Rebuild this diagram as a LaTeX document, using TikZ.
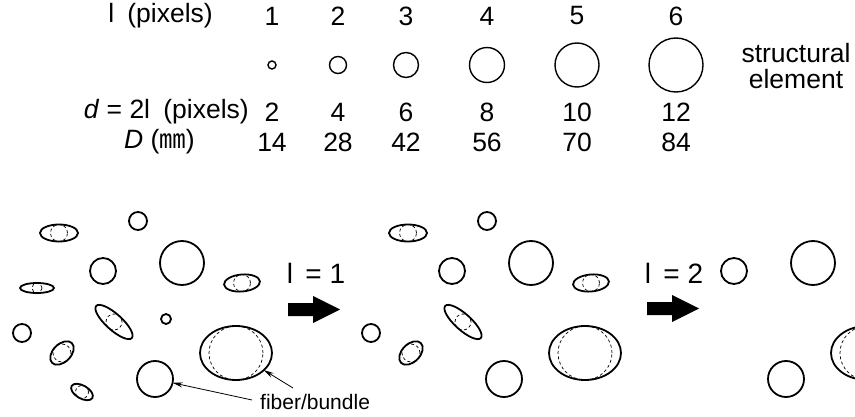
\documentclass[tikz,border=0pt]{standalone}
\usepackage{fontspec}
\setmainfont{Liberation Sans}
\newfontfamily\cjk{Noto Sans CJK JP}
\usetikzlibrary{shapes.geometric,arrows.meta}
\tikzset{
  fib/.style={ellipse, draw, line width=1.8pt, inner sep=0pt, outer sep=0pt, fill=white},
  core/.style={circle, draw, line width=0.7pt, inner sep=0pt, dash pattern=on 3pt off 2.5pt},
  elem/.style={circle, draw, line width=1.4pt, inner sep=0pt},
  lab/.style={font=\fontsize{26.5}{30}\selectfont, inner sep=0pt},
  steplab/.style={font=\fontsize{28}{30}\selectfont, inner sep=0pt},
  small/.style={font=\fontsize{21}{24}\selectfont, inner sep=0pt},
  pointer/.style={line width=0.8pt, -{Stealth[length=10pt,width=5pt]}},
  block/.style={fill=black},
}
% name, x, y, rx, ry, angle
\newcommand\fibel[6]{%
  \node[fib, minimum width=#4*2pt, minimum height=#5*2pt, rotate=#6] (#1) at (#2,#3) {};
  \node[core, minimum size=#5*2pt] (#1c) at (#2,#3) {};}
% name, x, y, r
\newcommand\fibc[4]{%
  \node[fib, minimum width=#4*2pt, minimum height=#4*2pt] (#1) at (#2,#3) {};}
\newcommand\blockarrow[3]{% name, x0, y
  \fill[block] (#2,#3-6.5) -- ++(25,0) -- ++(0,-7) -- ++(27,13.5) -- ++(-27,13.5) -- ++(0,-7) -- ++(-25,0) -- cycle;
  \coordinate (#1) at (#2+26,#3);}
\begin{document}
\begin{tikzpicture}[x=1pt,y=-1pt]
\useasboundingbox (0,0) rectangle (855,417);
\clip (0,0) rectangle (855,417);
% ---------- table ----------
\node[lab, anchor=east] (hl) at (213,16) {l\enspace(pixels)};
\node[lab, anchor=east] (hd) at (249,112) {\textit{d} = 2l\enspace(pixels)};
\node[lab, anchor=east] (hD) at (195,142) {\textit{D} ({\cjk ㎜})};
\foreach \i/\x/\r/\dd/\DD in {1/272/4/2/14, 2/338/8.5/4/28, 3/406/12.5/6/42, 4/487/17.5/8/56, 5/577/22/10/70, 6/676/27/12/84}{
  \node[lab] (n\i) at (\x,16) {\i};
  \node[elem, minimum size=\r*2pt] (c\i) at (\x,65) {};
  \node[lab] (d\i) at (\x,112) {\dd};
  \node[lab] (D\i) at (\x,142) {\DD};
}
\node[lab, anchor=center] (se1) at (796,53) {structural};
\node[lab, anchor=center] (se2) at (796,79) {element};
% ---------- panel 1 ----------
\begin{scope}
\fibel{pA}{59}{233}{19}{8.5}{0}
\fibc{pB}{138}{221}{9}
\fibc{pC}{103}{271}{13}
\fibc{pD}{182}{263}{22}
\fibel{pE}{37}{288}{17}{5}{0}
\fibel{pF}{242}{283}{18}{8.5}{5}
\fibel{pG}{114}{322}{24}{8}{-42}
\fibc{pH}{166}{319}{5}
\fibc{pI}{22}{333}{9}
\fibel{pJ}{62}{353}{14}{9}{45}
\fibel{pK}{82}{392}{12}{6.5}{-30}
\fibc{pL}{155}{379}{18}
\fibel{pM}{236}{353}{36}{27}{0}
\end{scope}
\node[small, anchor=west] (fb) at (260,402) {fiber/bundle};
\coordinate (fb1) at (252,400);
\coordinate (fb2) at (293,388);
\draw[pointer] (fb1) -- (pL);
\draw[pointer] (fb2) -- (pM);
% ---------- step 1 ----------
\node[steplab] (s1) at (316,273) {l\, = 1};
\blockarrow{a1}{288}{309.5}
% ---------- panel 2 ----------
\begin{scope}[xshift=349pt]
\fibel{qA}{59}{233}{19}{8.5}{0}
\fibc{qB}{138}{221}{9}
\fibc{qC}{103}{271}{13}
\fibc{qD}{182}{263}{22}
\fibel{qF}{242}{283}{18}{8.5}{5}
\fibel{qG}{114}{322}{24}{8}{-42}
\fibc{qI}{22}{333}{9}
\fibel{qJ}{62}{353}{14}{9}{45}
\fibc{qL}{155}{379}{18}
\fibel{qM}{236}{353}{36}{27}{0}
\end{scope}
% ---------- step 2 ----------
\node[steplab] (s2) at (674,273) {l\, = 2};
\blockarrow{a2}{647}{308.5}
% ---------- panel 3 ----------
\begin{scope}[xshift=631pt]
\fibc{rC}{103}{271}{13}
\fibc{rD}{182}{263}{22}
\fibc{rL}{155}{379}{18}
\fibel{rM}{236}{353}{36}{27}{0}
\end{scope}
\end{tikzpicture}
\end{document}
